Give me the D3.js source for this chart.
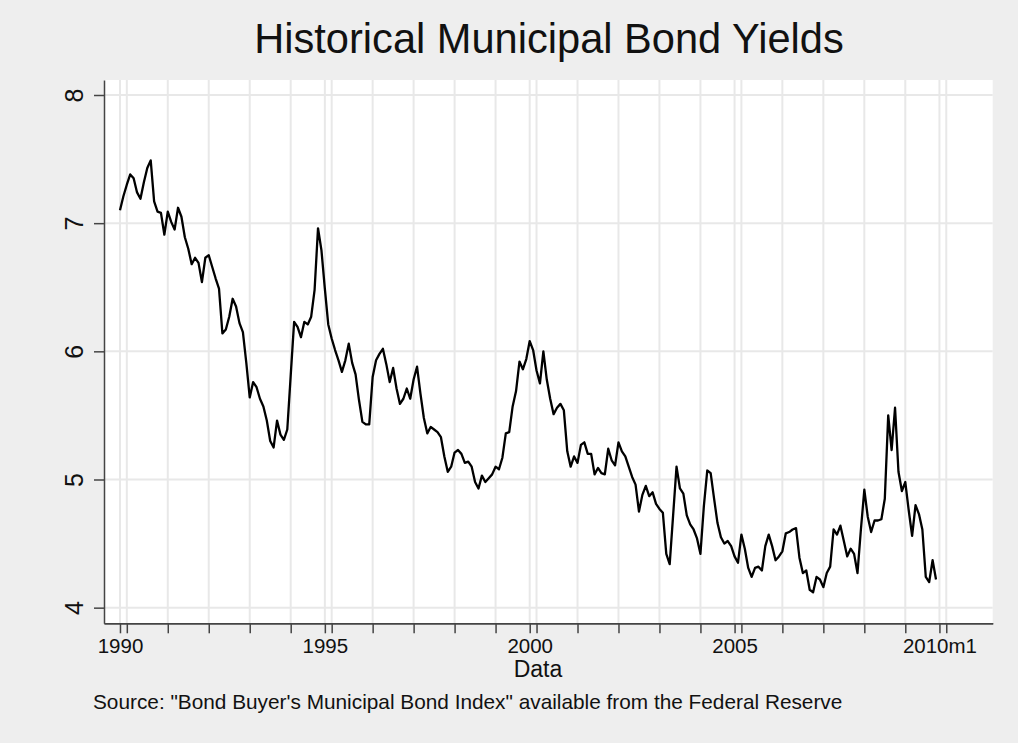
<!DOCTYPE html>
<html>
<head>
<meta charset="utf-8">
<script src="https://cdn.jsdelivr.net/npm/d3@7"></script>
<style>
  body { margin: 0; background: #eeeeee; }
  svg { display: block; font-family: "Liberation Sans", Arial, sans-serif; }
</style>
</head>
<body>
<div class="vis"></div>
<script>
// monthly yields, 1990m1 .. 2009m12, one row per year
const startYear = 1990
const yields = [
    7.10, 7.21, 7.30, 7.38, 7.35, 7.24, 7.19, 7.32, 7.43, 7.49, 7.17, 7.09,
    7.08, 6.91, 7.09, 7.01, 6.95, 7.12, 7.05, 6.89, 6.80, 6.68, 6.73, 6.69,
    6.54, 6.73, 6.75, 6.66, 6.57, 6.49, 6.14, 6.17, 6.27, 6.41, 6.35, 6.22,
    6.15, 5.91, 5.64, 5.76, 5.72, 5.63, 5.57, 5.46, 5.30, 5.25, 5.46, 5.35,
    5.31, 5.39, 5.81, 6.23, 6.19, 6.11, 6.23, 6.21, 6.27, 6.48, 6.96, 6.79,
    6.49, 6.21, 6.10, 6.01, 5.93, 5.84, 5.93, 6.06, 5.91, 5.82, 5.62, 5.45,
    5.43, 5.43, 5.80, 5.93, 5.98, 6.02, 5.90, 5.76, 5.87, 5.71, 5.59, 5.63,
    5.71, 5.63, 5.78, 5.88, 5.67, 5.48, 5.36, 5.41, 5.39, 5.37, 5.33, 5.18,
    5.06, 5.10, 5.21, 5.23, 5.20, 5.13, 5.14, 5.10, 4.98, 4.93, 5.03, 4.98,
    5.01, 5.04, 5.10, 5.08, 5.17, 5.36, 5.37, 5.57, 5.69, 5.92, 5.86, 5.94,
    6.08, 6.01, 5.85, 5.75, 6.00, 5.78, 5.63, 5.51, 5.56, 5.59, 5.54, 5.22,
    5.10, 5.18, 5.13, 5.27, 5.29, 5.20, 5.20, 5.04, 5.09, 5.05, 5.04, 5.24,
    5.15, 5.11, 5.29, 5.22, 5.18, 5.10, 5.02, 4.96, 4.75, 4.88, 4.95, 4.87,
    4.90, 4.81, 4.77, 4.74, 4.42, 4.34, 4.72, 5.10, 4.93, 4.89, 4.72, 4.65,
    4.61, 4.54, 4.42, 4.79, 5.07, 5.05, 4.85, 4.66, 4.55, 4.50, 4.52, 4.48,
    4.40, 4.35, 4.57, 4.46, 4.31, 4.24, 4.31, 4.32, 4.29, 4.48, 4.57, 4.48,
    4.37, 4.40, 4.44, 4.58, 4.59, 4.61, 4.62, 4.39, 4.27, 4.29, 4.14, 4.12,
    4.24, 4.22, 4.16, 4.27, 4.32, 4.61, 4.57, 4.64, 4.52, 4.40, 4.46, 4.42,
    4.27, 4.61, 4.92, 4.71, 4.59, 4.68, 4.68, 4.69, 4.85, 5.50, 5.23, 5.56,
    5.06, 4.91, 4.98, 4.76, 4.56, 4.80, 4.73, 4.61, 4.24, 4.20, 4.37, 4.22
]
const yTicks = [4, 5, 6, 7, 8]
const labelTicks = [1990, 1995, 2000, 2005, 2010]
const labelText = ['1990', '1995', '2000', '2005', '2010m1']
const yearTicks = d3.range(1990, 2011)

const w = 1018
const h = 743
const plotLeft = 104
const plotRight = 992.7
const plotTop = 80
const plotBottom = 623.3

const dataset = yields.map((v, i) => [startYear + i / 12, v])
// unlabeled yearly ticks sit two months past the year mark
const minorTicks = yearTicks.map((d) => d + 2 / 12)

const svg = d3.select('.vis')
                .append('svg')
                .attr('width', w)
                .attr('height', h)

svg.append('rect')
    .attr('width', w)
    .attr('height', h)
    .attr('fill', '#eeeeee')

svg.append('rect')
    .attr('x', plotLeft)
    .attr('y', plotTop)
    .attr('width', plotRight - plotLeft)
    .attr('height', plotBottom - plotTop)
    .attr('fill', '#ffffff')

const xScale = d3.scaleLinear()
                    .domain([1989.61, 2011.3])
                    .range([plotLeft, plotRight])

const yScale = d3.scaleLinear()
                    .domain([3.878, 8.117])
                    .range([plotBottom, plotTop])

// grid
const grid = svg.append('g')
                .attr('stroke', '#e8e8e8')
                .attr('stroke-width', 2)

grid.selectAll('.hgrid')
    .data(yTicks)
    .enter().append('line')
    .attr('x1', plotLeft)
    .attr('x2', plotRight)
    .attr('y1', (d) => yScale(d))
    .attr('y2', (d) => yScale(d))

grid.selectAll('.vgrid')
    .data(minorTicks.concat(labelTicks))
    .enter().append('line')
    .attr('x1', (d) => xScale(d))
    .attr('x2', (d) => xScale(d))
    .attr('y1', plotTop)
    .attr('y2', plotBottom)

// the series
const line = d3.line()
                .x((d) => xScale(d[0]))
                .y((d) => yScale(d[1]))

svg.append('path')
    .datum(dataset)
    .attr('d', line)
    .attr('fill', 'none')
    .attr('stroke', '#000')
    .attr('stroke-width', 2.3)
    .attr('stroke-linejoin', 'round')

// axes
const xMinor = d3.axisBottom(xScale).tickValues(minorTicks).tickSize(10).tickSizeOuter(0).tickFormat('')
const xMajor = d3.axisBottom(xScale).tickValues(labelTicks).tickSize(10).tickSizeOuter(0)
                .tickFormat((d, i) => labelText[i])
const yAxis = d3.axisLeft(yScale).tickValues(yTicks).tickSize(10).tickSizeOuter(0)
                .tickFormat(d3.format('d'))

svg.append('g')
    .attr('class', 'x-minor')
    .attr('transform', 'translate(0,' + plotBottom + ')')
    .call(xMinor)

svg.append('g')
    .attr('class', 'x-axis')
    .attr('transform', 'translate(0,' + plotBottom + ')')
    .call(xMajor)

svg.select('.x-axis')
    .selectAll('text')
    .attr('font-size', 20.5)
    .attr('fill', '#111')
    .attr('y', 30)
    .attr('dy', 0)

svg.append('g')
    .attr('class', 'y-axis')
    .attr('transform', 'translate(' + plotLeft + ',0)')
    .call(yAxis)

svg.select('.y-axis')
    .selectAll('text')
    .attr('font-size', 25)
    .attr('fill', '#111')
    .attr('x', 0)
    .attr('y', 0)
    .attr('dy', 0)
    .attr('text-anchor', 'middle')
    .attr('transform', 'translate(-21,0) rotate(-90)')

svg.selectAll('.domain, .tick line')
    .attr('stroke', '#444')
    .attr('stroke-width', 1.5)

// titles
svg.append('text')
    .attr('x', 549)
    .attr('y', 53)
    .attr('text-anchor', 'middle')
    .attr('font-size', 41.6)
    .attr('fill', '#111')
    .text('Historical Municipal Bond Yields')

svg.append('text')
    .attr('x', 538)
    .attr('y', 677)
    .attr('text-anchor', 'middle')
    .attr('font-size', 23)
    .attr('fill', '#111')
    .text('Data')

svg.append('text')
    .attr('x', 93)
    .attr('y', 709)
    .attr('font-size', 20.8)
    .attr('fill', '#111')
    .text('Source: "Bond Buyer\'s Municipal Bond Index" available from the Federal Reserve')
</script>
</body>
</html>
